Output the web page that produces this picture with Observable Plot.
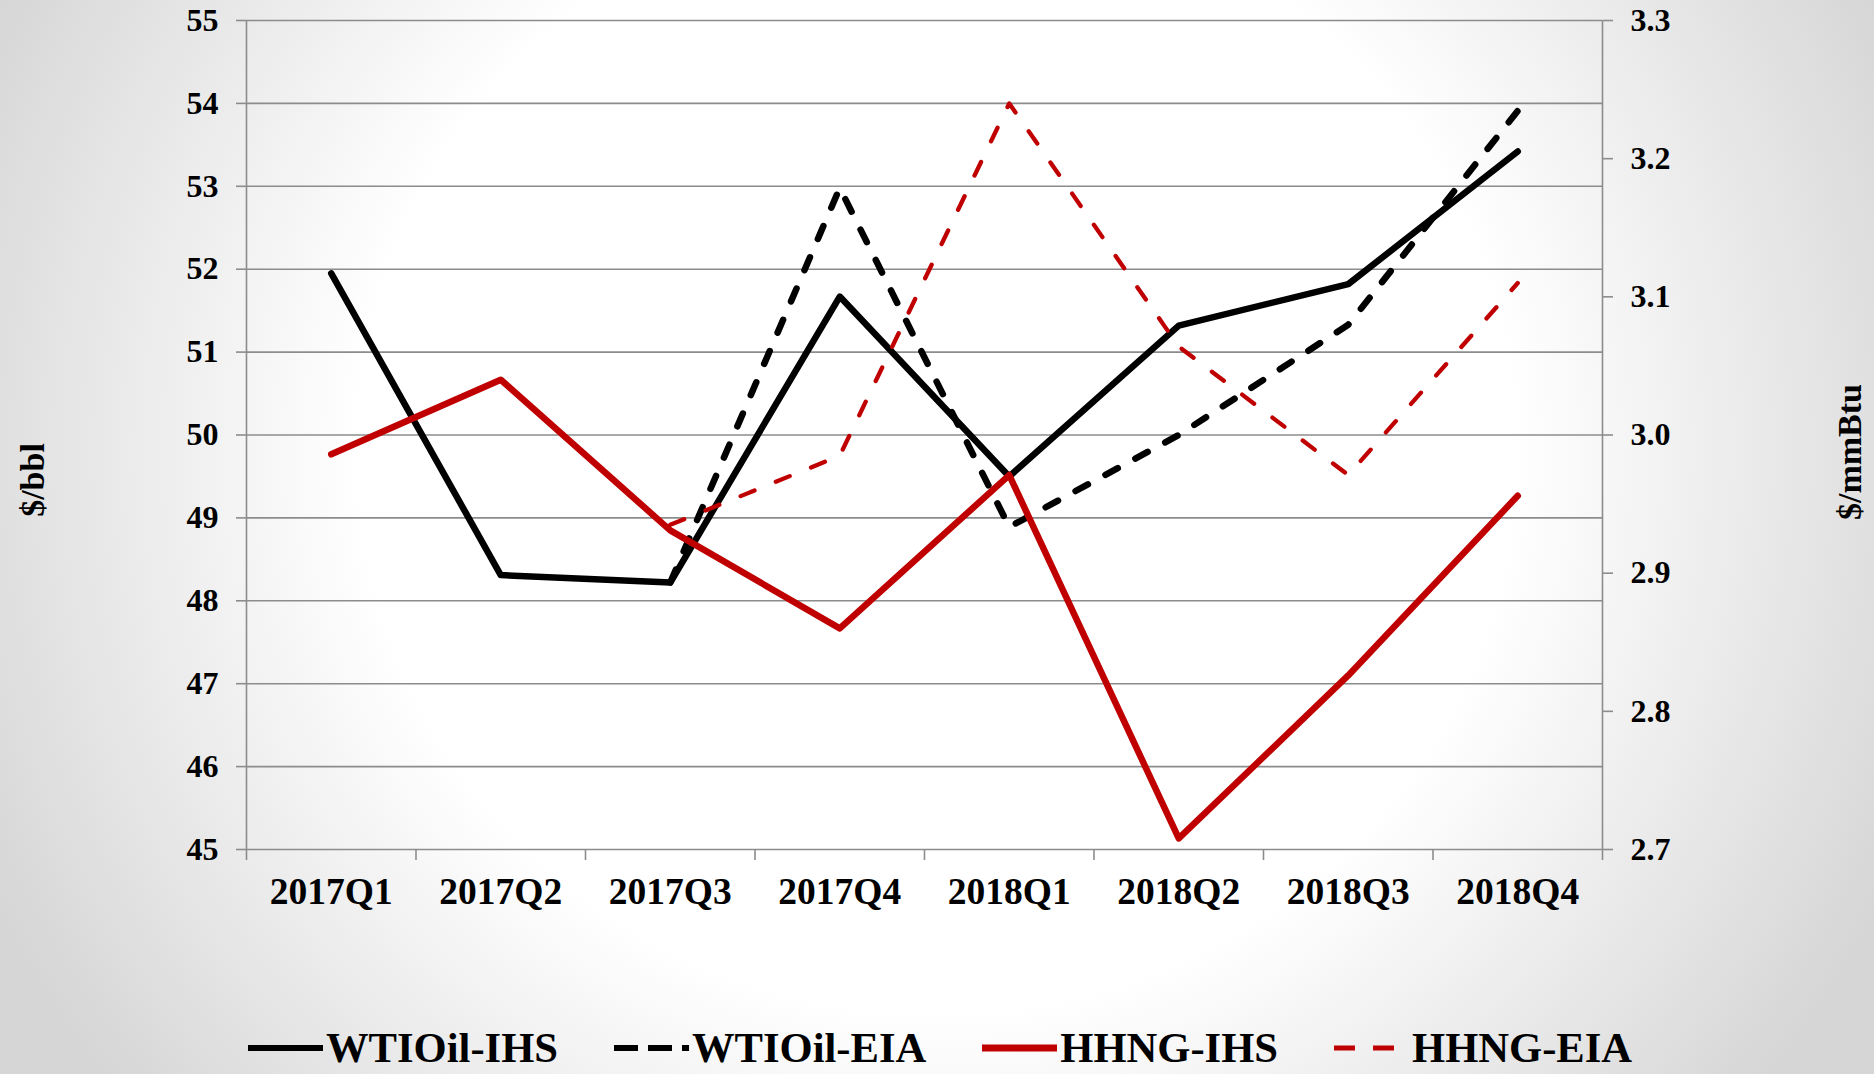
<!DOCTYPE html>
<html>
<head>
<meta charset="utf-8">
<script src="https://cdn.jsdelivr.net/npm/d3@7"></script>
<script src="https://cdn.jsdelivr.net/npm/@observablehq/plot@0.6"></script>
<style>
  html, body { margin: 0; padding: 0; }
  body {
    width: 1874px; height: 1074px; overflow: hidden; position: relative;
    font-family: "Liberation Serif", "Times New Roman", serif; font-weight: bold; color: #000;
    background: radial-gradient(ellipse 56% 95% at 50% 42%, #ffffff 0%, #ffffff 55%, #d6d6d6 100%);
  }
  #chart { position: absolute; left: 0; top: 0; }
  .ytitle { position: absolute; font-size: 34px; line-height: 34px; white-space: nowrap;
            transform: translate(-50%, -50%) rotate(-90deg); }
  #legend { position: absolute; left: 248px; top: 1027px; display: flex; gap: 56px;
            font-size: 42.6px; line-height: 42px; white-space: nowrap; }
  .item { display: flex; align-items: center; height: 42px; }
  .item svg { display: block; }
</style>
</head>
<body>
<div id="chart"></div>
<div class="ytitle" style="left:33px; top:480px;">$/bbl</div>
<div class="ytitle" style="left:1850px; top:452px;">$/mmBtu</div>
<div id="legend"></div>
<script>
// ---- data ----
const quarters = ["2017Q1", "2017Q2", "2017Q3", "2017Q4", "2018Q1", "2018Q2", "2018Q3", "2018Q4"];
const wtiIHS  = [51.95, 48.31, 48.22, 51.67, 49.50, 51.32, 51.82, 53.42];   // $/bbl
const wtiEIA  = [null,  null,  48.22, 52.98, 48.89, 50.00, 51.33, 53.91];   // $/bbl
const hhngIHS = [2.986, 3.040, 2.931, 2.860, 2.971, 2.708, 2.826, 2.956];   // $/mmBtu
const hhngEIA = [null,  null,  2.935, 2.985, 3.240, 3.064, 2.971, 3.110];   // $/mmBtu
const leftTicks  = [45, 46, 47, 48, 49, 50, 51, 52, 53, 54, 55];
const rightTicks = [2.7, 2.8, 2.9, 3.0, 3.1, 3.2, 3.3];

// ---- secondary axis mapping ----
const toLeft = d3.scaleLinear([2.7, 3.3], [45, 55]);
const toRight = toLeft.invert;

const series = [
  {name: "WTIOil-IHS", values: wtiIHS,  axis: "left",  stroke: "#000000", width: 6.5, dash: null,    sw: {dash: null,    t: 6}},
  {name: "WTIOil-EIA", values: wtiEIA,  axis: "left",  stroke: "#000000", width: 6.5, dash: "14,20", sw: {dash: "24,10", t: 6}},
  {name: "HHNG-IHS",   values: hhngIHS, axis: "right", stroke: "#C00000", width: 6.5, dash: null,    sw: {dash: null,    t: 7}},
  {name: "HHNG-EIA",   values: hhngEIA, axis: "right", stroke: "#C00000", width: 4.3, dash: "15,23", sw: {dash: "21,18", t: 5}}
];

const grey = "#8c8c8c";
const font = "'Liberation Serif', 'Times New Roman', serif";

const lineMarks = series.map(s => {
  const rows = quarters.map((q, i) => ({i, q, v: s.values[i]})).filter(d => d.v != null);
  return Plot.line(rows, {
    x: "i",
    y: s.axis === "left" ? (d => d.v) : (d => toLeft(d.v)),
    stroke: s.stroke,
    strokeWidth: s.width,
    strokeDasharray: s.dash ?? undefined,
    strokeLinecap: "round",
    strokeLinejoin: "round"
  });
});

const chart = Plot.plot({
  width: 1874,
  height: 940,
  marginLeft: 246,
  marginRight: 272,
  marginTop: 20,
  marginBottom: 91,
  x: {type: "linear", domain: [-0.5, quarters.length - 0.5]},
  y: {domain: [45, 55]},
  style: {background: "transparent", fontFamily: font, overflow: "visible"},
  marks: [
    Plot.gridY(leftTicks, {stroke: grey, strokeOpacity: 1, strokeWidth: 1.6}),
    Plot.ruleX([-0.5, quarters.length - 0.5], {stroke: grey, strokeWidth: 1.6}),
    Plot.axisY(leftTicks, {anchor: "left", tickSize: 10, tickPadding: 18, stroke: grey, strokeWidth: 1.6,
      fill: "#000", fontSize: 32, fontWeight: "bold", label: null, tickFormat: d3.format("d")}),
    Plot.axisY(rightTicks.map(toLeft), {anchor: "right", tickSize: 10, tickPadding: 18, stroke: grey, strokeWidth: 1.6,
      fill: "#000", fontSize: 32, fontWeight: "bold", label: null, tickFormat: d => toRight(d).toFixed(1)}),
    Plot.axisX(d3.range(-0.5, quarters.length, 1), {anchor: "bottom", tickSize: 11, stroke: grey, strokeWidth: 1.6,
      fill: "none", label: null}),
    Plot.axisX(d3.range(quarters.length), {anchor: "bottom", tickSize: 0, tickPadding: 28,
      fill: "#000", fontSize: 37.5, fontWeight: "bold", label: null, tickFormat: i => quarters[i]}),
    ...lineMarks
  ]
});
document.getElementById("chart").appendChild(chart);

// ---- legend ----
const legend = d3.select("#legend");
series.forEach(s => {
  const item = legend.append("div").attr("class", "item");
  const svg = item.append("svg").attr("width", 75).attr("height", 42).style("margin-right", "3px");
  svg.append("line")
    .attr("x1", 0).attr("x2", 75).attr("y1", 21).attr("y2", 21)
    .attr("stroke", s.stroke).attr("stroke-width", s.sw.t)
    .attr("stroke-dasharray", s.sw.dash)
    .attr("stroke-linecap", "butt");
  item.append("span").text(s.name);
});
</script>
</body>
</html>
